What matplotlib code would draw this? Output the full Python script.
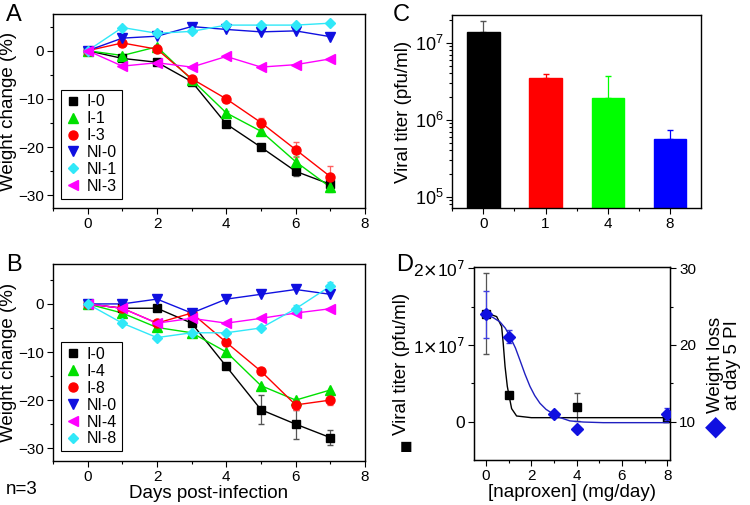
import matplotlib
matplotlib.use("Agg")
import matplotlib.pyplot as plt
from matplotlib.ticker import MultipleLocator, FixedLocator, NullFormatter, LogLocator
import numpy as np

plt.rcParams['font.family'] = ['Liberation Sans', 'DejaVu Sans']

days = [0, 1, 2, 3, 4, 5, 6, 7]

# Panel A
A_labels = ["I-0", "I-1", "I-3", "NI-0", "NI-1", "NI-3"]
A_I0 = [0, -1.6, -2.4, -6.4, -15.2, -20.0, -25.0, -27.7]
A_I1 = [0, -1.0, 0.8, -6.0, -12.9, -16.7, -23.0, -28.3]
A_I3 = [0, 1.6, 0.3, -5.8, -10.0, -14.9, -20.5, -26.1]
A_NI0 = [0, 2.6, 3.0, 5.0, 4.4, 3.9, 4.1, 2.9]
A_NI1 = [0, 4.8, 3.6, 4.0, 5.3, 5.3, 5.3, 5.7]
A_NI3 = [0, -3.2, -2.5, -3.4, -1.2, -3.4, -2.9, -1.7]
A_I0_err = [0, 0.3, 0.3, 0.3, 0.4, 0.5, 1.0, 1.0]
A_I1_err = [0, 0.3, 0.3, 0.3, 0.5, 0.8, 1.2, 1.0]
A_I3_err = [0, 0.3, 0.3, 0.3, 0.7, 0.9, 1.5, 2.3]

# Panel B
B_labels = ["I-0", "I-4", "I-8", "NI-0", "NI-4", "NI-8"]
B_I0 = [0, -0.9, -0.9, -4.0, -13.0, -22.0, -25.0, -27.8]
B_I4 = [0, -1.9, -4.9, -6.0, -10.0, -17.0, -20.0, -17.9]
B_I8 = [0, -0.9, -4.0, -1.9, -8.0, -14.0, -21.0, -20.0]
B_NI0 = [0, 0.0, 1.0, -1.9, 1.0, 2.0, 3.0, 2.0]
B_NI4 = [0, -0.9, -4.0, -3.0, -4.0, -3.0, -1.9, -1.0]
B_NI8 = [0, -4.0, -7.0, -6.0, -6.0, -5.0, -1.0, 3.7]
B_I0_err = [0, 0.2, 0.2, 0.3, 0.3, 3.0, 3.0, 1.6]
B_I8_err = [0, 0.2, 0.2, 0.2, 0.3, 0.3, 1.0, 1.0]
B_NI8_err = [0, 0.2, 0.2, 0.2, 0.2, 0.2, 0.8, 0.8]

# Panel C
C_doses = ["0", "1", "4", "8"]
C_titer = [1.39e7, 3.5e6, 1.93e6, 5.55e5]
C_err = [0.54e7, 0.43e6, 1.73e6, 1.7e5]
C_colors = ["#000000", "#ff0000", "#00ff00", "#0000ff"]

# Panel D
D_dose_titer = [0, 1, 4, 8]
D_titer = [1.41e7, 0.35e7, 0.19e7, 0.05e7]
D_titer_err = [0.53e7, 0.0, 0.18e7, 0.0]
D_dose_wl = [0, 1, 3, 4, 8]
D_wl = [24.0, 21.1, 11.0, 9.0, 11.0]
D_wl_err = [3.1, 0.9, 0.2, 0.2, 0.8]
# fitted curves
D_fit_titer_x = [0, 0.47, 0.69, 0.76, 0.84, 0.94, 1.03, 1.13, 1.35, 2.0, 8.0]
D_fit_titer_y = [1.42e7, 1.37e7, 1.24e7, 1.02e7, 0.72e7, 0.46e7, 0.32e7, 0.17e7, 0.074e7, 0.052e7, 0.052e7]
D_fit_wl_x = [0, 0.3, 0.62, 0.85, 1.06, 1.3, 1.5, 1.72, 1.94, 2.15, 2.38, 2.65, 2.97, 3.3, 3.7, 4.3, 5.17, 8.05]
D_fit_wl_y = [23.9, 23.6, 23.0, 22.2, 21.1, 19.6, 18.0, 16.2, 14.6, 13.4, 12.4, 11.6, 11.0, 10.5, 10.1, 9.95, 9.87, 9.87]

W, H = 750, 505
fig = plt.figure(figsize=(7.5, 5.05), dpi=100)

def fr(l, t, r, b):
    return [l / W, 1 - b / H, (r - l) / W, (b - t) / H]

axA = fig.add_axes(fr(53, 14, 365, 208))
axB = fig.add_axes(fr(53, 264, 365, 460.7))
axC = fig.add_axes(fr(452.3, 14.7, 701, 208.3))
axD = fig.add_axes(fr(474, 267.3, 670, 460))

tick_fs = 11
label_fs = 13.5

def style(ax):
    ax.tick_params(axis='both', which='major', direction='out', length=4, width=0.8, labelsize=tick_fs, top=False, right=False, pad=2.5)
    ax.tick_params(axis='both', which='minor', direction='out', length=2, width=0.8, top=False, right=False)
    for s in ax.spines.values():
        s.set_linewidth(1.0)

BLACK = dict(color='#000000', marker='s')
GREEN = dict(color='#00e000', marker='^')
RED = dict(color='#ff0000', marker='o')
BLUE = dict(color='#1010e0', marker='v')
CYAN_A = dict(color='#30e8f8', marker='D')
MAG_A = dict(color='#ff00ff', marker='<')
err_col = {'#000000': '#555555', '#00e000': '#60e060', '#ff0000': '#ff6060',
           '#1010e0': '#4040e0', '#30e8f8': '#50e0f0', '#ff00ff': '#ff60ff'}

def weight_panel(ax, data, errs, labels, styles):
    handles = []
    for i, (y, lab) in enumerate(zip(data, labels)):
        st = styles[i]
        ms = 5.5 if st['marker'] in ('s', 'D') else 6.5
        if errs[i] is not None:
            ax.errorbar(days, y, yerr=errs[i], fmt='none', ecolor=err_col[st['color']], elinewidth=0.9, capsize=2, zorder=2)
        ax.plot(days, y, color=st['color'], lw=1.0, zorder=3)
        h, = ax.plot(days, y, linestyle='none', marker=st['marker'], color=st['color'], ms=ms, zorder=4, label=lab)
        handles.append(h)
    ax.set_xlim(-1, 8)
    ax.xaxis.set_major_locator(MultipleLocator(2))
    ax.xaxis.set_minor_locator(MultipleLocator(1))
    ax.yaxis.set_major_locator(MultipleLocator(10))
    ax.yaxis.set_minor_locator(MultipleLocator(5))
    ax.set_ylabel("Weight change (%)", fontsize=label_fs, labelpad=1)
    leg = ax.legend(handles=handles, loc='lower left', bbox_to_anchor=(0.026, 0.048), borderaxespad=0,
                    fontsize=11.5, handlelength=0.9, handletextpad=0.4, labelspacing=0.12, borderpad=0.3,
                    frameon=True, fancybox=False, edgecolor='black', framealpha=1)
    leg.get_frame().set_linewidth(0.8)
    style(ax)

weight_panel(axA, [A_I0, A_I1, A_I3, A_NI0, A_NI1, A_NI3], [A_I0_err, A_I1_err, A_I3_err, None, None, None],
             A_labels, [BLACK, GREEN, RED, BLUE, CYAN_A, MAG_A])
axA.set_ylim(-32.6, 7.6)
weight_panel(axB, [B_I0, B_I4, B_I8, B_NI0, B_NI4, B_NI8], [B_I0_err, None, B_I8_err, None, None, B_NI8_err],
             B_labels, [BLACK, GREEN, RED, BLUE, MAG_A, CYAN_A])
axB.set_ylim(-32.6, 8.3)
axB.set_xlabel("Days post-infection", fontsize=label_fs, labelpad=1)

# Panel C
xc = np.arange(len(C_doses))
axC.bar(xc, C_titer, width=0.52, color=C_colors, edgecolor=C_colors, zorder=2)
for i in range(len(xc)):
    axC.errorbar(xc[i], C_titer[i], yerr=[[0], [C_err[i]]], fmt='none', ecolor=C_colors[i] if i else '#555555',
                 elinewidth=0.9, capsize=2, zorder=1)
axC.set_yscale('log')
axC.set_ylim(10 ** 4.85, 10 ** 7.364)
axC.set_xlim(-0.5, 3.5)
axC.set_xticks(xc)
axC.set_xticklabels(C_doses)
axC.xaxis.set_minor_locator(FixedLocator([-0.5, 0.5, 1.5, 2.5]))
axC.yaxis.set_major_locator(LogLocator(base=10, numticks=10))
axC.yaxis.set_minor_locator(LogLocator(base=10, subs=np.arange(2, 10), numticks=10))
axC.yaxis.set_minor_formatter(NullFormatter())
axC.set_ylabel("Viral titer (pfu/ml)", fontsize=label_fs, labelpad=2)
style(axC)
axC.tick_params(axis='y', which='major', labelsize=13)

# Panel D
axD2 = axD.twinx()
axD.errorbar(D_dose_titer, D_titer, yerr=D_titer_err, fmt='none', ecolor='#555555', elinewidth=0.9, capsize=2, zorder=2)
axD.plot(D_fit_titer_x, D_fit_titer_y, color='black', lw=1.0, zorder=3)
axD.plot(D_dose_titer, D_titer, linestyle='none', marker='s', color='black', ms=6, zorder=4)
axD2.errorbar(D_dose_wl, D_wl, yerr=D_wl_err, fmt='none', ecolor='#4040e0', elinewidth=0.9, capsize=2, zorder=2)
axD2.plot(D_fit_wl_x, D_fit_wl_y, color='#2020c0', lw=1.0, zorder=3)
axD2.plot(D_dose_wl, D_wl, linestyle='none', marker='D', color='#1010e0', ms=6, zorder=4)
axD.set_xlim(-0.53, 8.12)
axD.set_ylim(-0.5e7, 2.013e7)
axD2.set_ylim(5, 30.13)
axD.xaxis.set_major_locator(MultipleLocator(2))
axD.xaxis.set_minor_locator(MultipleLocator(1))
axD.yaxis.set_major_locator(FixedLocator([0, 1e7, 2e7]))
axD.yaxis.set_minor_locator(FixedLocator([0.5e7, 1.5e7]))
axD.set_yticklabels(["0", r"1$\times$10$^7$", r"2$\times$10$^7$"])
axD2.yaxis.set_major_locator(FixedLocator([10, 20, 30]))
axD2.yaxis.set_minor_locator(FixedLocator([15, 25]))
axD.set_xlabel("[naproxen] (mg/day)", fontsize=label_fs, labelpad=1)
axD.set_ylabel("Viral titer (pfu/ml)", fontsize=label_fs, labelpad=2)
style(axD)
axD.tick_params(axis='y', which='major', labelsize=12.5)
axD2.tick_params(axis='y', which='major', direction='out', length=4, width=0.8, labelsize=tick_fs, right=True, pad=2.5)
axD2.tick_params(axis='y', which='minor', direction='out', length=2, width=0.8, right=True)
fig.text(406 / W, 1 - 448 / H, "\u25A0", color='black', fontsize=15, ha='center', va='center')
fig.text(724 / W, 1 - 365 / H, "Weight loss\nat day 5 PI", rotation=90, fontsize=label_fs,
         ha='center', va='center', linespacing=0.95)
fig.text(716 / W, 1 - 428 / H, "\u25C6", color='#1010e0', fontsize=20, ha='center', va='center')

# Panel letters and annotations
fig.text(6 / W, 1 - 4 / H, "A", fontsize=17, va='top', ha='left')
fig.text(6 / W, 1 - 254 / H, "B", fontsize=17, va='top', ha='left')
fig.text(393 / W, 1 - 4 / H, "C", fontsize=17, va='top', ha='left')
fig.text(396 / W, 1 - 254 / H, "D", fontsize=17, va='top', ha='left')
fig.text(6 / W, 1 - 490 / H, "n=3", fontsize=13.5, va='center', ha='left')

fig.savefig("out.png", dpi=100)
